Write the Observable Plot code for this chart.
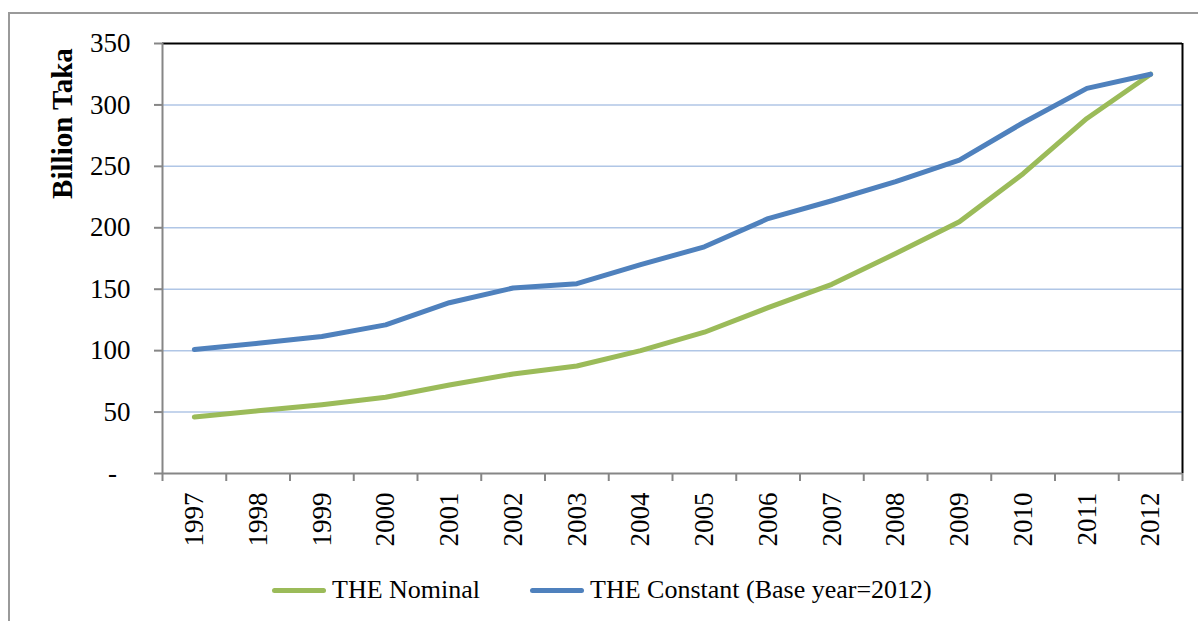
<!DOCTYPE html>
<html>
<head>
<meta charset="utf-8">
<script src="https://cdn.jsdelivr.net/npm/d3@7"></script>
<script src="https://cdn.jsdelivr.net/npm/@observablehq/plot@0.6"></script>
<style>
  html, body { margin: 0; padding: 0; background: #fff; }
  body { width: 1198px; height: 621px; position: relative; overflow: hidden; font-family: "Liberation Serif", serif; }
  #frame { position: absolute; left: 8px; top: 12px; width: 1200px; height: 620px; border-top: 2px solid #9a9a9a; border-left: 2px solid #9a9a9a; box-sizing: border-box; }
  #chart { position: absolute; left: 0; top: 0; }
  #legend { position: absolute; left: 0; top: 574px; width: 1198px; height: 32px; font-size: 26px; color: #000; }
  .item { position: absolute; top: 0; display: flex; align-items: center; height: 32px; }
  .sw { width: 54px; height: 5px; border-radius: 3px; margin-right: 6px; }
</style>
</head>
<body>
<div id="frame"></div>
<div id="chart"></div>
<div id="legend"></div>
<script>
const years = [1997, 1998, 1999, 2000, 2001, 2002, 2003, 2004, 2005, 2006, 2007, 2008, 2009, 2010, 2011, 2012];
const nominal = [46, 51, 56, 62, 72, 81, 87.5, 100, 115, 135, 154, 179, 205, 244, 289, 325];
const constant = [101, 106, 111.5, 121, 139, 151, 154.5, 170, 184.5, 207.5, 222, 237.5, 255, 285.5, 313.5, 325];
const seriesNames = ["THE Nominal", "THE Constant (Base year=2012)"];
const seriesColors = ["#9bbb59", "#4f81bd"];
const yTicks = [0, 50, 100, 150, 200, 250, 300, 350];
const yLabel = "Billion Taka";

const rows = [];
years.forEach((yr, i) => {
  rows.push({year: yr, value: nominal[i], series: seriesNames[0]});
  rows.push({year: yr, value: constant[i], series: seriesNames[1]});
});
const xDomain = [years[0] - 0.5, years[years.length - 1] + 0.5];
const boundaries = years.map(y => y - 0.5).concat([xDomain[1]]);
const grid = yTicks.filter(t => t > 0 && t < yTicks[yTicks.length - 1]);

const plot = Plot.plot({
  width: 1198,
  height: 560,
  marginLeft: 162,
  marginRight: 16,
  marginTop: 43,
  marginBottom: 87,
  style: {fontFamily: "Liberation Serif, serif", fontSize: "27px", color: "#000", background: "transparent"},
  x: {domain: xDomain},
  y: {domain: [0, 350]},
  color: {domain: seriesNames, range: seriesColors},
  marks: [
    Plot.ruleY(grid, {stroke: "#b0c6e6", strokeWidth: 1.5}),
    Plot.ruleY([yTicks[yTicks.length - 1]], {stroke: "#000", strokeWidth: 2}),
    Plot.ruleX([xDomain[1]], {stroke: "#000", strokeWidth: 2}),
    Plot.axisY({ticks: yTicks, tickSize: 8, tickPadding: 24, stroke: "#868686", strokeWidth: 2,
      tickFormat: d => d === 0 ? "-\u00a0\u00a0" : String(d), label: null, fill: "#000"}),
    Plot.axisX({ticks: years, tickSize: 0, tickPadding: 19, tickRotate: -90, tickFormat: d => String(d), label: null, fill: "#000"}),
    Plot.axisX({ticks: boundaries, tickSize: 8, tickFormat: () => "", label: null, stroke: "#868686", strokeWidth: 2}),
    Plot.ruleX([xDomain[0]], {stroke: "#868686", strokeWidth: 2}),
    Plot.ruleY([0], {stroke: "#868686", strokeWidth: 2}),
    Plot.line(rows, {x: "year", y: "value", stroke: "series", z: "series", strokeWidth: 5, strokeLinejoin: "round", strokeLinecap: "round"}),
    Plot.text([yLabel], {frameAnchor: "top-left", dx: -100, dy: 80, rotate: -90, text: d => d, fontWeight: "bold", fontSize: 29, textAnchor: "middle", lineAnchor: "middle", fill: "#000"})
  ]
});
document.getElementById("chart").appendChild(plot);

const legend = document.getElementById("legend");
const lefts = [272, 530];
seriesNames.forEach((name, i) => {
  const item = document.createElement("div");
  item.className = "item";
  item.style.left = lefts[i] + "px";
  const sw = document.createElement("div");
  sw.className = "sw";
  sw.style.background = seriesColors[i];
  const t = document.createElement("span");
  t.textContent = name;
  item.appendChild(sw);
  item.appendChild(t);
  legend.appendChild(item);
});
</script>
</body>
</html>
